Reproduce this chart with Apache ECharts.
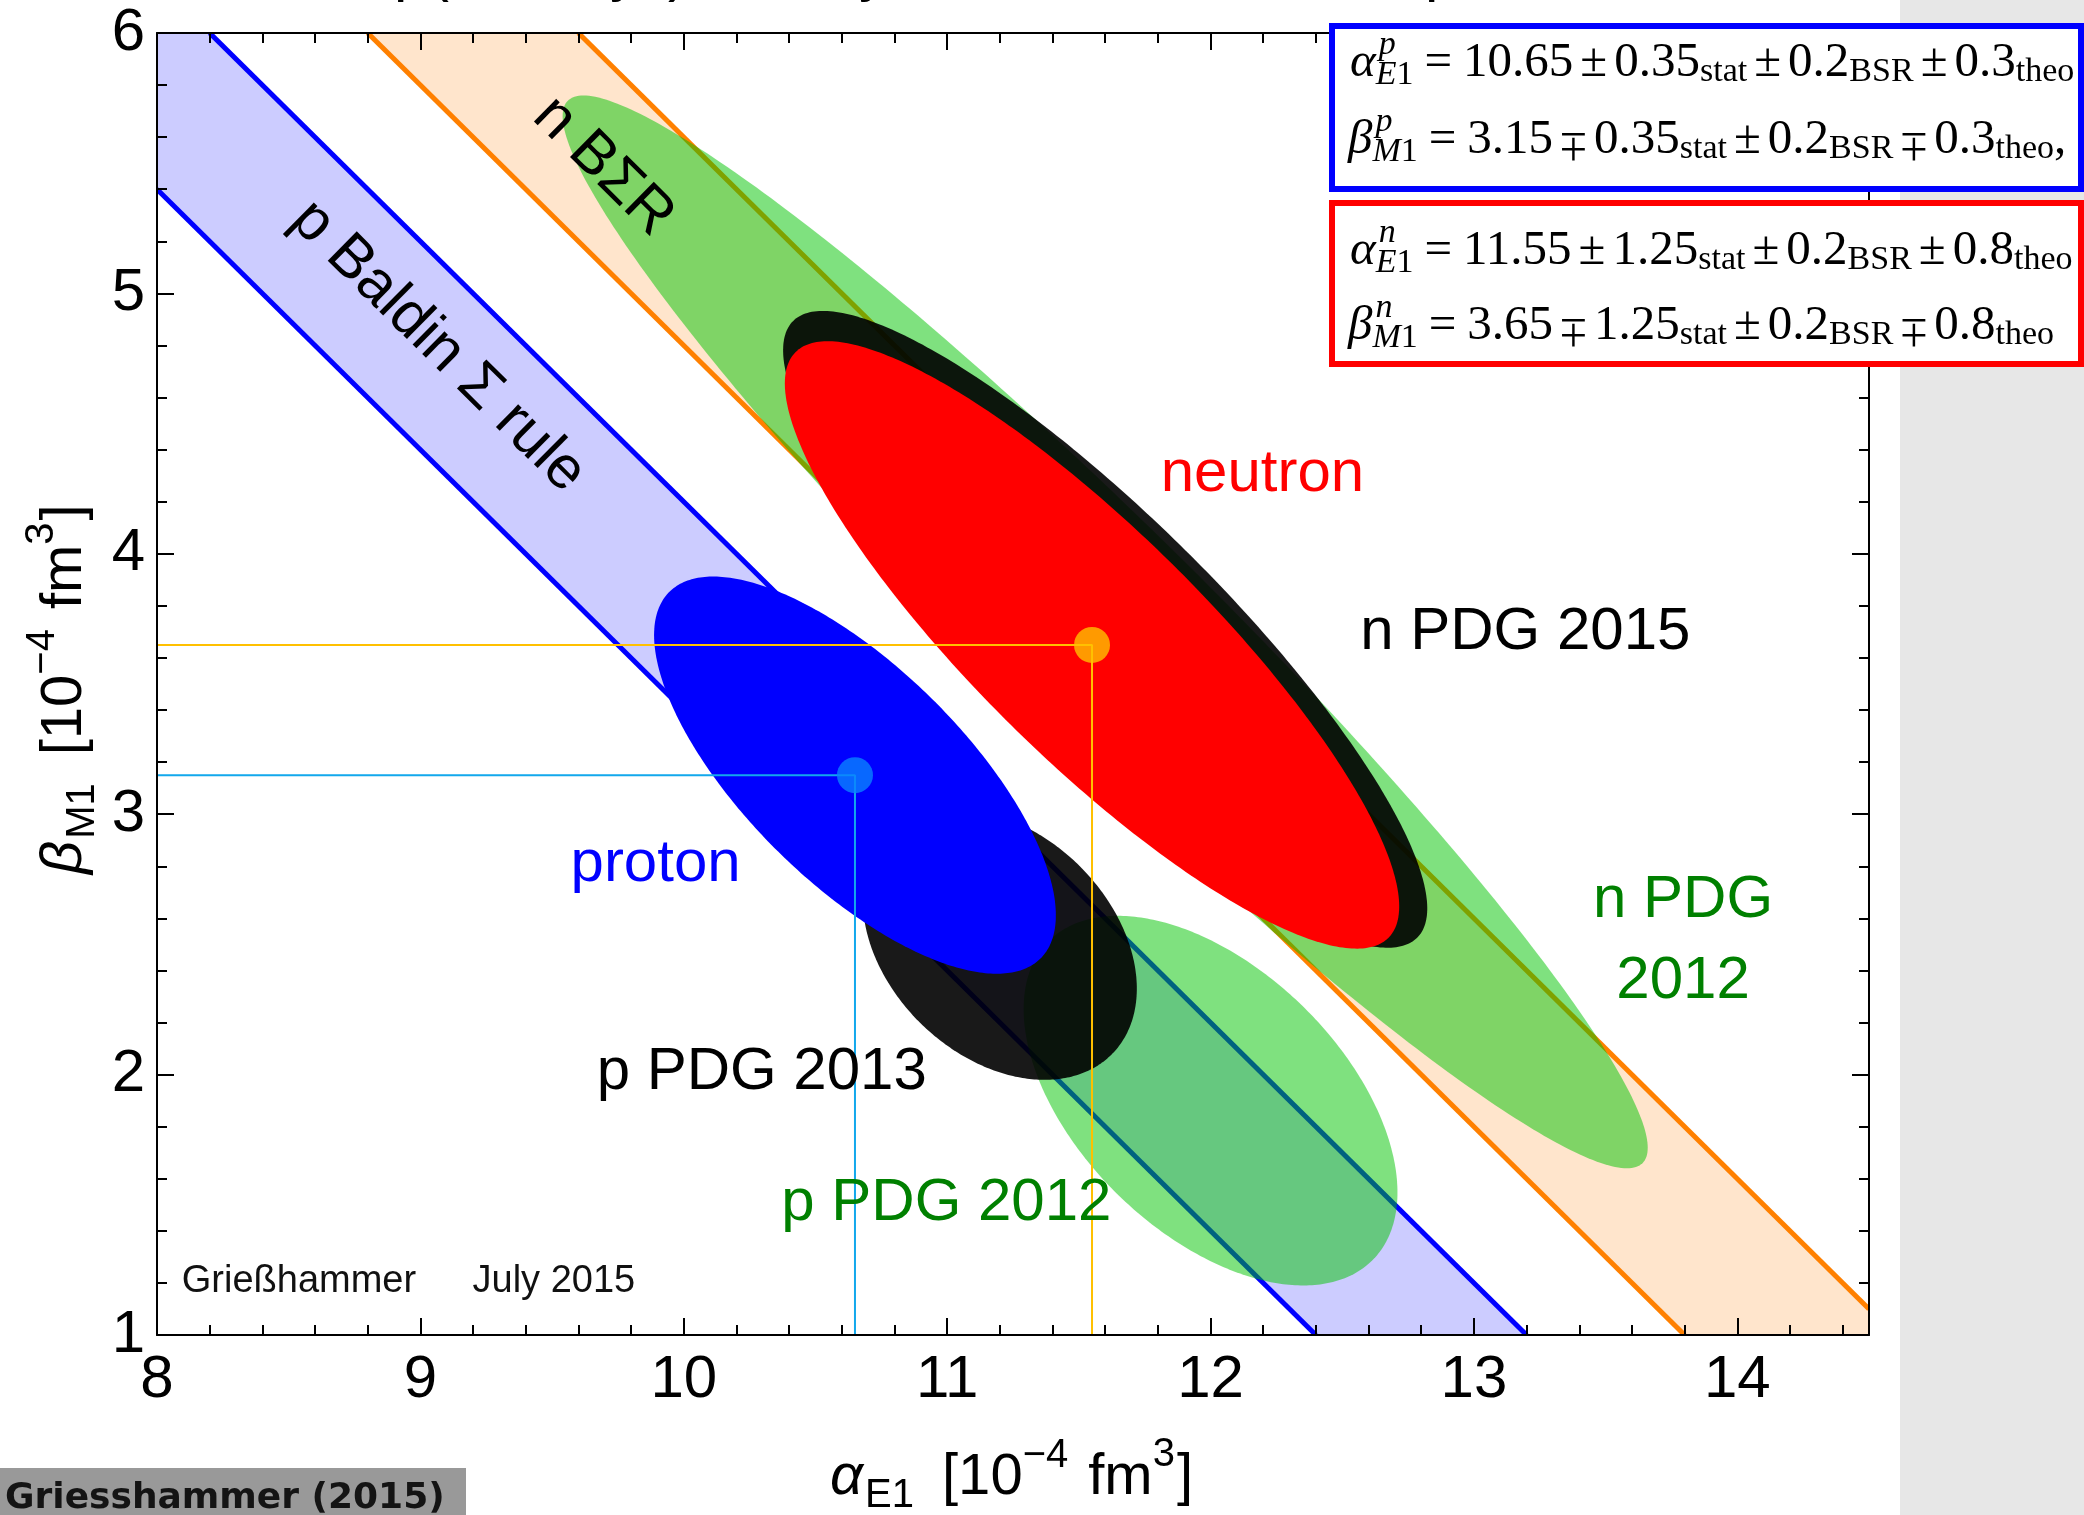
<!DOCTYPE html>
<html>
<head>
<meta charset="utf-8">
<title>Nucleon polarisabilities</title>
<script src="https://cdn.jsdelivr.net/npm/echarts@6/dist/echarts.min.js"></script>
<style>
  html, body { margin: 0; padding: 0; background: #ffffff; }
  #chart { width: 2084px; height: 1515px; }
</style>
</head>
<body>
<div id="chart"></div>
<script>
// ---- axis ranges and tick labels ----
const xMin = 8, xMax = 14.5, yMin = 1, yMax = 6;
const xTicks = [8, 9, 10, 11, 12, 13, 14];
const yTicks = [1, 2, 3, 4, 5, 6];

// ---- chiEFT fit results (proton, neutron) ----
const fitNames = ['proton', 'neutron'];
const fitNucleon = ['p', 'n'];
const fitAlpha = [10.65, 11.55];
const fitBeta = [3.15, 3.65];
const fitStat = [0.35, 1.25];
const fitBSR = [0.2, 0.2];
const fitTheo = [0.3, 0.8];
// error ellipses: semi-axes in 10^-4 fm^3, tilt of the long axis in degrees
const fitMajor = [0.996, 1.591];
const fitMinor = [0.414, 0.435];
const fitTilt = [-45, -45];

// ---- PDG averages ----
const pdgNames = ['n PDG 2012', 'p PDG 2012', 'n PDG 2015', 'p PDG 2013'];
const pdgAlpha = [11.6, 12.0, 11.6, 11.2];
const pdgBeta = [3.7, 1.9, 3.71, 2.5];
const pdgMajor = [2.885, 0.868, 1.675, 0.599];
const pdgMinor = [0.404, 0.504, 0.43, 0.427];
const pdgTilt = [-45, -45, -45, -45];

// ---- Baldin sum rules: alpha + beta = sum +- half ----
const bandNames = ['p Baldin Σ rule', 'n BΣR'];
const bandSum = [13.8, 15.2];
const bandHalf = [0.4, 0.4];

// ---- styles ----
const SANS = 'Liberation Sans', SERIF = 'Liberation Serif', BOLD_SANS = 'DejaVu Sans';
const bandFill = ['#ccccff', '#ffe5cc'];
const bandLine = ['#0000ff', '#ff8000'];
const pdgFill = ['rgba(0,196,0,0.5)', 'rgba(0,196,0,0.5)', 'rgba(0,0,0,0.9)', 'rgba(0,0,0,0.9)'];
const fitFill = ['#0000ff', '#ff0000'];
const fitDot = ['#0a82ff', '#ffc000'];
const fitGuide = ['#12a8ec', '#ffc000'];

// text labels inside the frame (anchor in data coordinates)
const plotLabels = [
  { text: bandNames[0], at: [9.067, 4.796], color: '#000000', band: true },
  { text: bandNames[1], at: [9.694, 5.487], color: '#000000', band: true },
  { text: fitNames[1], at: [12.197, 4.306], color: '#ff0000' },
  { text: pdgNames[2], at: [13.195, 3.699], color: '#000000' },
  { text: 'n PDG', at: [13.794, 2.670], color: '#008000' },
  { text: '2012', at: [13.794, 2.356], color: '#008000' },
  { text: fitNames[0], at: [9.893, 2.808], color: '#0000ff' },
  { text: pdgNames[3], at: [10.296, 2.009], color: '#000000' },
  { text: pdgNames[1], at: [10.997, 1.504], color: '#008000' },
  { text: 'Grießhammer', at: [8.094, 1.204], color: '#111111', size: 38, align: 'left' },
  { text: 'July 2015', at: [9.198, 1.204], color: '#111111', size: 38, align: 'left' }
];

// ---- helpers ----
const measureCtx = document.createElement('canvas').getContext('2d');
function setFont(size, family, italic, bold) {
  measureCtx.font = (italic ? 'italic ' : '') + (bold ? 'bold ' : '') + size + 'px "' + family + '"';
}
function textWidth(t, size, family, italic, bold) {
  setFont(size, family, italic, bold);
  return measureCtx.measureText(t).width;
}
// height of a glyph's ink centre above the baseline
function inkCentre(t, size, family, italic) {
  setFont(size, family, italic);
  const m = measureCtx.measureText(t);
  return (m.actualBoundingBoxAscent - m.actualBoundingBoxDescent) / 2;
}
// distance from the alphabetic baseline up to the canvas "middle" line, per em
const MID = { 'Liberation Sans': 0.3465, 'Liberation Serif': 0.3375, 'DejaVu Sans': 0.346 };

function textStyle(text, size, family, color, opts) {
  opts = opts || {};
  return {
    text: text, fontSize: size, fontFamily: family, fill: color,
    fontStyle: opts.italic ? 'italic' : 'normal', fontWeight: opts.bold ? 'bold' : 'normal',
    align: opts.align || 'left', textAlign: opts.align || 'left',
    verticalAlign: 'middle', textVerticalAlign: 'middle'
  };
}

// lays out a formula from tokens; (x, y) is the start of the baseline.
// stack: starts where the previous free token started (before its gap); join: glued to the previous token;
// flip: glyph mirrored top-to-bottom about its own centre (turns ± into ∓ in the same face)
function mathGroup(tokens, family, color, x, y, rotation) {
  let cursor = 0, prevEnd = 0, anchor = 0;
  const children = tokens.map(function (tk) {
    let start;
    if (tk.stack) start = anchor + (tk.gap || 0);
    else if (tk.join) start = prevEnd;
    else { anchor = cursor; start = cursor + (tk.gap || 0); }
    const w = textWidth(tk.t, tk.s, family, tk.i);
    prevEnd = start + w;
    cursor = Math.max(cursor, prevEnd);
    const mid = MID[family] * tk.s;
    if (tk.flip) {
      const c = inkCentre(tk.t, tk.s, family, tk.i);
      return {
        type: 'group', x: start + w / 2, y: (tk.dy || 0) - c, scaleY: -1, silent: true,
        children: [{
          type: 'text', x: 0, y: c - mid, z: 30, silent: true,
          style: textStyle(tk.t, tk.s, family, color, { italic: tk.i, align: 'center' })
        }]
      };
    }
    return {
      type: 'text', x: start, y: (tk.dy || 0) - mid, z: 30, silent: true,
      style: textStyle(tk.t, tk.s, family, color, { italic: tk.i })
    };
  });
  return { type: 'group', x: x, y: y, rotation: rotation || 0, z: 30, silent: true, children: children };
}

// "±" row or "∓" row (upper = false) of a fit result
function equationTokens(sym, sub, i, value, upper, tail) {
  const M = 49, S = 34, SUP = -23, SUB = 7, LOW = 4, G = 7;
  const tk = [
    { t: sym, s: M, i: true },
    { t: fitNucleon[i], s: S, i: true, dy: SUP, gap: 3 },
    { t: sub, s: S, i: true, dy: SUB, stack: true },
    { t: '1', s: S, dy: SUB, join: true },
    { t: '=', s: M, gap: 11 },
    { t: String(value), s: M, gap: 11 },
    { t: '±', s: M, gap: G, flip: !upper },
    { t: String(fitStat[i]), s: M, gap: G },
    { t: 'stat', s: S, dy: LOW, join: true },
    { t: '±', s: M, gap: G },
    { t: String(fitBSR[i]), s: M, gap: G },
    { t: 'BSR', s: S, dy: LOW, join: true },
    { t: '±', s: M, gap: G, flip: !upper },
    { t: String(fitTheo[i]), s: M, gap: G },
    { t: 'theo', s: S, dy: LOW, join: true }
  ];
  if (tail) tk.push({ t: tail, s: M, join: true });
  return tk;
}

function axisTitleTokens(sym, sub) {
  const M = 58, S = 40;
  return [
    { t: sym, s: M, i: true },
    { t: sub, s: S, dy: 12, gap: 2 },
    { t: '[10', s: M, gap: 28 },
    { t: '−4', s: S, dy: -28, join: true },
    { t: 'fm', s: M, gap: 20 },
    { t: '3', s: S, dy: -29, join: true },
    { t: ']', s: M, gap: 2 }
  ];
}

// keep the part of a polygon where f(p) >= 0 (f linear)
function clipHalf(poly, f) {
  const out = [];
  for (let k = 0; k < poly.length; k++) {
    const P = poly[k], Q = poly[(k + 1) % poly.length];
    const fp = f(P), fq = f(Q);
    if (fp >= 0) out.push(P);
    if ((fp >= 0) !== (fq >= 0)) {
      const t = fp / (fp - fq);
      out.push([P[0] + t * (Q[0] - P[0]), P[1] + t * (Q[1] - P[1])]);
    }
  }
  return out;
}

// ---- ellipse table: PDG first (underneath), fits on top ----
const ellipseRows = pdgNames.map(function (n, i) { return [pdgAlpha[i], pdgBeta[i], pdgMajor[i], pdgMinor[i], pdgTilt[i]]; })
  .concat(fitNames.map(function (n, i) { return [fitAlpha[i], fitBeta[i], fitMajor[i], fitMinor[i], fitTilt[i]]; }));
const ellipseFill = pdgFill.concat(fitFill);

// ---- axes ----
function xAxisCfg(position, major) {
  return {
    type: 'value', position: position, min: xMin, max: xMax, interval: major ? 1 : 0.2, z: 6, silent: true,
    axisLine: { show: major, onZero: false, lineStyle: { color: '#000', width: 2 } },
    axisTick: { show: true, inside: true, length: major ? 17 : 10, lineStyle: { color: '#000', width: 2 } },
    axisLabel: {
      show: major && position === 'bottom', margin: 15, fontSize: 60, fontFamily: SANS, color: '#000',
      formatter: function (v) { return xTicks.indexOf(v) >= 0 ? String(v) : ''; }
    },
    splitLine: { show: false }
  };
}
function yAxisCfg(position) {
  return {
    type: 'value', position: position, min: yMin, max: yMax, interval: 1, z: 6, silent: true,
    axisLine: { show: true, onZero: false, lineStyle: { color: '#000', width: 2 } },
    axisTick: { show: true, inside: true, length: 17, lineStyle: { color: '#000', width: 2 } },
    minorTick: { show: true, splitNumber: 5, length: 10, lineStyle: { color: '#000', width: 2 } },
    axisLabel: {
      show: position === 'left', margin: 12, fontSize: 60, fontFamily: SANS, color: '#000',
      formatter: function (v) { return yTicks.indexOf(v) >= 0 ? String(v) : ''; }
    },
    splitLine: { show: false }, minorSplitLine: { show: false }
  };
}

// ---- free graphics around the frame ----
const graphics = [];
// grey strip down the right margin
graphics.push({ type: 'rect', z: 1, silent: true, shape: { x: 1900, y: 0, width: 184, height: 1515 }, style: { fill: '#e7e7e7' } });
// lowest strip of the slide heading; the line runs off the top edge of the page
const headingGlyphs = [['p', 394], ['(', 429], ['y', 610], [')', 668], ['y', 859], ['p', 1425]];
headingGlyphs.forEach(function (g) {
  graphics.push({ type: 'text', z: 30, silent: true, x: g[1], y: -6 - MID[SANS] * 60, style: textStyle(g[0], 60, SANS, '#000000') });
});
// result boxes
graphics.push({ type: 'rect', z: 20, silent: true, shape: { x: 1332, y: 26, width: 749, height: 163 }, style: { fill: '#ffffff', stroke: '#0000ff', lineWidth: 6 } });
graphics.push({ type: 'rect', z: 20, silent: true, shape: { x: 1332, y: 203, width: 749, height: 161 }, style: { fill: '#ffffff', stroke: '#ff0000', lineWidth: 6 } });
graphics.push(mathGroup(equationTokens('α', 'E', 0, fitAlpha[0], true), SERIF, '#000', 1350, 80));
graphics.push(mathGroup(equationTokens('β', 'M', 0, fitBeta[0], false, ','), SERIF, '#000', 1348, 157));
graphics.push(mathGroup(equationTokens('α', 'E', 1, fitAlpha[1], true), SERIF, '#000', 1350, 268));
graphics.push(mathGroup(equationTokens('β', 'M', 1, fitBeta[1], false), SERIF, '#000', 1348, 343));
// axis titles
graphics.push(mathGroup(axisTitleTokens('α', 'E1'), SANS, '#000', 830, 1498));
graphics.push(mathGroup(axisTitleTokens('β', 'M1'), SANS, '#000', 85, 874, Math.PI / 2));
// source tag bottom left
graphics.push({ type: 'rect', z: 20, silent: true, shape: { x: 0, y: 1468, width: 466, height: 47 }, style: { fill: '#999999' } });
graphics.push({ type: 'text', z: 30, silent: true, x: 5, y: 1511 - MID[BOLD_SANS] * 36, style: textStyle('Griesshammer (2015)', 36, BOLD_SANS, '#141414', { bold: true }) });

const option = {
  animation: false,
  backgroundColor: '#ffffff',
  grid: { left: 157, right: 215, top: 33, bottom: 180, containLabel: false, outerBoundsMode: 'none' },
  xAxis: [xAxisCfg('bottom', true), xAxisCfg('bottom', false), xAxisCfg('top', true), xAxisCfg('top', false)],
  yAxis: [yAxisCfg('left'), yAxisCfg('right')],
  series: [
    {
      // sum-rule bands
      type: 'custom', name: 'sum rules', z: 1, silent: true, clip: true,
      xAxisIndex: 0, yAxisIndex: 0,
      data: bandSum.map(function (s, i) { return [s, bandHalf[i]]; }),
      renderItem: function (params, api) {
        const i = params.dataIndex, s = api.value(0), h = api.value(1);
        let poly = [[xMin, yMin], [xMax, yMin], [xMax, yMax], [xMin, yMax]];
        poly = clipHalf(poly, function (p) { return p[0] + p[1] - (s - h); });
        poly = clipHalf(poly, function (p) { return (s + h) - (p[0] + p[1]); });
        const edge = function (c) {
          const a = Math.max(xMin, c - yMax), b = Math.min(xMax, c - yMin);
          return [api.coord([a, c - a]), api.coord([b, c - b])];
        };
        return {
          type: 'group', children: [
            { type: 'polygon', shape: { points: poly.map(function (p) { return api.coord(p); }) }, style: { fill: bandFill[i] } },
            { type: 'polyline', shape: { points: edge(s - h) }, style: { stroke: bandLine[i], lineWidth: 5, fill: 'none' } },
            { type: 'polyline', shape: { points: edge(s + h) }, style: { stroke: bandLine[i], lineWidth: 5, fill: 'none' } }
          ]
        };
      }
    },
    {
      // error ellipses
      type: 'custom', name: 'ellipses', z: 2, silent: true, clip: true,
      xAxisIndex: 0, yAxisIndex: 0,
      encode: { x: 0, y: 1 },
      data: ellipseRows,
      renderItem: function (params, api) {
        const cx = api.value(0), cy = api.value(1), a = api.value(2), b = api.value(3);
        const th = api.value(4) * Math.PI / 180, c = Math.cos(th), sn = Math.sin(th);
        const pts = [];
        for (let k = 0; k < 360; k++) {
          const t = k * Math.PI / 180, u = a * Math.cos(t), v = b * Math.sin(t);
          pts.push(api.coord([cx + u * c - v * sn, cy + u * sn + v * c]));
        }
        return { type: 'polygon', z2: params.dataIndex, shape: { points: pts }, style: { fill: ellipseFill[params.dataIndex] } };
      }
    }
  ].concat(fitNames.map(function (n, i) {
    // guide lines from the axes to the fit value
    return {
      type: 'line', name: n, z: 3, silent: true, symbol: 'none',
      xAxisIndex: 0, yAxisIndex: 0,
      data: [[xMin, fitBeta[i]], [fitAlpha[i], fitBeta[i]], [fitAlpha[i], yMin]],
      lineStyle: { color: fitGuide[i], width: 2 }
    };
  })).concat([
    {
      type: 'scatter', name: 'fit values', z: 4, silent: true, symbolSize: 36,
      xAxisIndex: 0, yAxisIndex: 0,
      data: fitNames.map(function (n, i) { return { value: [fitAlpha[i], fitBeta[i]], itemStyle: { color: fitDot[i] } }; })
    },
    {
      // in-frame text labels
      type: 'custom', name: 'labels', z: 5, silent: true,
      xAxisIndex: 0, yAxisIndex: 0,
      data: plotLabels.map(function (l) { return l.at; }),
      renderItem: function (params, api) {
        const lab = plotLabels[params.dataIndex];
        const x = api.value(0), y = api.value(1);
        const p = api.coord([x, y]);
        let rotation = 0;
        if (lab.band) {
          const q = api.coord([x + 1, y - 1]);
          rotation = -Math.atan2(q[1] - p[1], q[0] - p[0]);
        }
        return {
          type: 'text', x: p[0], y: p[1], rotation: rotation, silent: true,
          style: textStyle(lab.text, lab.size || 60, SANS, lab.color, { align: lab.align || 'center' })
        };
      }
    }
  ]),
  graphic: graphics
};

const chart = echarts.init(document.getElementById('chart'), null, { renderer: 'canvas' });
chart.setOption(option);
</script>
</body>
</html>
